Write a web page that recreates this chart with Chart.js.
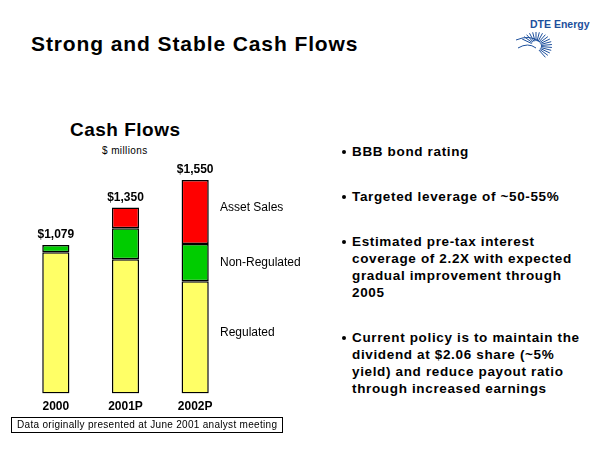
<!DOCTYPE html>
<html>
<head>
<meta charset="utf-8">
<script src="https://cdn.jsdelivr.net/npm/chart.js@4/dist/chart.umd.min.js"></script>
<style>
    body { margin: 0; background: #fff; font-family: "Liberation Sans", Arial, sans-serif; }
    #page { position: relative; width: 600px; height: 450px; overflow: hidden; }
    .abs { position: absolute; white-space: nowrap; color: #000; }
    #title { left: 31px; top: 32px; font-size: 21px; font-weight: bold; letter-spacing: 0.9px; }
    #logoText { left: 530px; top: 18px; font-size: 10.5px; font-weight: bold; color: #1c4f9c; }
    #chartTitle { left: 70px; top: 119px; font-size: 19px; font-weight: bold; letter-spacing: 0.5px; }
    #units { left: 102px; top: 145px; font-size: 10px; letter-spacing: 0.4px; color: #000; }
    #chartWrap { position: absolute; left: 0; top: 100px; width: 320px; height: 320px; }
    #note { left: 11px; top: 417px; width: 265px; height: 14px; border: 1px solid #000; font-size: 10px; letter-spacing: 0.3px; line-height: 14px; padding-left: 5px; box-sizing: content-box; }
    #bullets { position: absolute; left: 340px; top: 143px; width: 260px; font-size: 13.5px; font-weight: bold; line-height: 17px; letter-spacing: 0.65px; white-space: nowrap; }
    .bullet { position: relative; padding-left: 12px; margin-bottom: 28px; }
    .bullet::before { content: ""; position: absolute; left: 2px; top: 7px; width: 4px; height: 4px; border-radius: 2px; background: #000; }
</style>
</head>
<body>
<div id="page">
    <div id="title" class="abs">Strong and Stable Cash Flows</div>
    <div id="logoText" class="abs">DTE Energy</div>
    <canvas id="logo" width="50" height="35" style="position:absolute;left:512px;top:30px;"></canvas>
    <div id="chartTitle" class="abs">Cash Flows</div>
    <div id="units" class="abs">$ millions</div>
    <div id="chartWrap"><canvas id="cashChart"></canvas></div>
    <div id="note" class="abs">Data originally presented at June 2001 analyst meeting</div>
    <div id="bullets">
        <div class="bullet">BBB bond rating</div>
        <div class="bullet">Targeted leverage of ~50-55%</div>
        <div class="bullet">Estimated pre-tax interest<br>coverage of 2.2X with expected<br>gradual improvement through<br>2005</div>
        <div class="bullet">Current policy is to maintain the<br>dividend at $2.06 share (~5%<br>yield) and reduce payout ratio<br>through increased earnings</div>
    </div>
</div>
<script>
// Data
const years = ['2000', '2001P', '2002P'];
const regulated = [1025, 975, 815];
const nonRegulated = [54, 225, 270];
const assetSales = [null, 150, 465];
const totalLabels = ['$1,079', '$1,350', '$1,550'];
const seriesNames = ['Regulated', 'Non-Regulated', 'Asset Sales'];

// Logo starburst (decoration)
const lg = document.getElementById('logo').getContext('2d');
lg.strokeStyle = '#1c4f9c';
lg.lineWidth = 1;
for (let a = -150; a <= 60; a += 12) {
    const r = a * Math.PI / 180;
    lg.beginPath();
    lg.moveTo(24 + Math.cos(r) * 5, 16 + Math.sin(r) * 5);
    lg.lineTo(24 + Math.cos(r) * 16, 16 + Math.sin(r) * 14);
    lg.stroke();
}
lg.beginPath();
lg.moveTo(4, 10); lg.quadraticCurveTo(18, 4, 28, 12); lg.stroke();
lg.beginPath();
lg.moveTo(6, 18); lg.quadraticCurveTo(16, 12, 24, 18); lg.stroke();

// Labels: totals above bars, series names beside last bar
const labelPlugin = {
    id: 'labels',
    afterDatasetsDraw(chart) {
        const ctx = chart.ctx;
        const top = chart.getDatasetMeta(2);
        const mid = chart.getDatasetMeta(1);
        ctx.save();
        ctx.fillStyle = '#000';
        ctx.textAlign = 'center';
        ctx.textBaseline = 'bottom';
        ctx.font = 'bold 12px "Liberation Sans", Arial';
        years.forEach((y, i) => {
            const bar = assetSales[i] != null ? top.data[i] : mid.data[i];
            ctx.fillText(totalLabels[i], bar.x, bar.y - 4);
        });
        ctx.textAlign = 'left';
        ctx.textBaseline = 'middle';
        ctx.font = '12px "Liberation Sans", Arial';
        const last = years.length - 1;
        [0, 1, 2].forEach(d => {
            const bar = chart.getDatasetMeta(d).data[last];
            const yc = (bar.y + bar.base) / 2;
            ctx.fillText(seriesNames[d], 220, d === 0 ? yc - 5 : (d === 2 ? yc - 4 : yc));
        });
        ctx.restore();
    }
};

new Chart(document.getElementById('cashChart'), {
    type: 'bar',
    data: {
        labels: years,
        datasets: [{
            label: seriesNames[0],
            data: regulated,
            backgroundColor: '#ffff66'
        }, {
            label: seriesNames[1],
            data: nonRegulated,
            backgroundColor: '#00cc00'
        }, {
            label: seriesNames[2],
            data: assetSales,
            backgroundColor: '#ff0000'
        }]
    },
    options: {
        responsive: true,
        maintainAspectRatio: false,
        animation: false,
        layout: { padding: { left: 21, right: 90, top: 18, bottom: 0 } },
        plugins: { legend: { display: false }, tooltip: { enabled: false } },
        datasets: {
            bar: { borderColor: '#000', borderWidth: 1.5, borderSkipped: false, barPercentage: 0.39, categoryPercentage: 1 }
        },
        scales: {
            x: {
                stacked: true,
                grid: { display: false, drawTicks: false, tickLength: 0 },
                border: { display: false },
                ticks: { color: '#000', font: { family: '"Liberation Sans", Arial', size: 12, weight: 'bold' }, padding: 6 }
            },
            y: { stacked: true, display: false, min: 0, max: 2000 }
        }
    },
    plugins: [labelPlugin]
});
</script>
</body>
</html>
